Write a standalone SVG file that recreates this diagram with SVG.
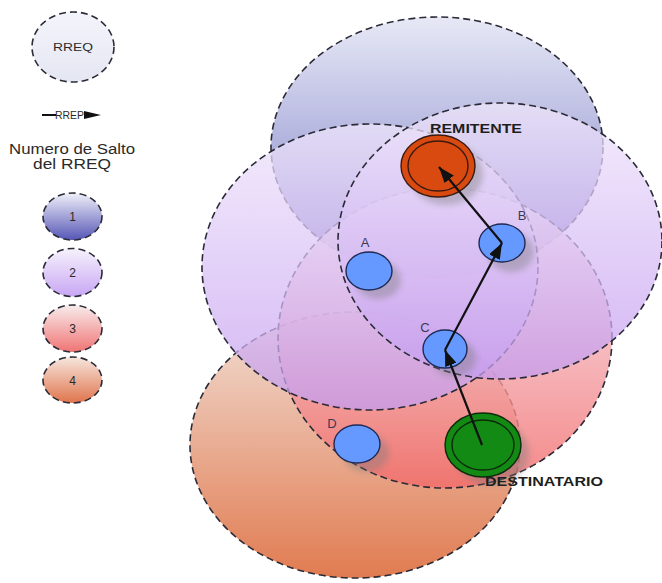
<svg xmlns="http://www.w3.org/2000/svg" width="662" height="583" viewBox="0 0 662 583">
  <defs>
    <style>
      .range { stroke: #2b2b38; stroke-width: 1.6; stroke-dasharray: 7 4; }
      .lbl { font-family: "Liberation Sans", Arial, sans-serif; fill: #2a2a2a; }
      .tag { font-family: "Liberation Sans", Arial, sans-serif; font-size: 13px; fill: #3a3a55; }
      .name { font-family: "Liberation Sans", Arial, sans-serif; font-size: 13px; font-weight: bold; fill: #1e1e1e; }
      .relay { fill: #6699ff; stroke: #1f2a55; stroke-width: 1.4; }
      .shadow { fill: #7a7a7a; opacity: 0.4; filter: url(#soft); }
      .route { stroke: #111; stroke-width: 2.2; fill: none; marker-end: url(#head); }
    </style>
    <filter id="soft" x="-30%" y="-30%" width="160%" height="160%">
      <feGaussianBlur stdDeviation="3"/>
    </filter>
    <marker id="head" viewBox="0 0 16 12" refX="16" refY="6" markerWidth="16" markerHeight="12" markerUnits="userSpaceOnUse" orient="auto">
      <path d="M0,0 L16,6 L0,12 Z" fill="#111"/>
    </marker>
    <!-- hop colour ramps: pale at the top, saturated at the bottom -->
    <linearGradient id="hop1" x1="0" y1="0" x2="0" y2="1">
      <stop offset="0" stop-color="#e4e6f5"/>
      <stop offset="1" stop-color="#6c6cbe"/>
    </linearGradient>
    <linearGradient id="hop2" x1="0" y1="0" x2="0" y2="1">
      <stop offset="0" stop-color="#efe6fb"/>
      <stop offset="1" stop-color="#c49cf0"/>
    </linearGradient>
    <linearGradient id="hop3" x1="0" y1="0" x2="0" y2="1">
      <stop offset="0" stop-color="#f6eefa"/>
      <stop offset="1" stop-color="#f26a6a"/>
    </linearGradient>
    <linearGradient id="hop4" x1="0" y1="0" x2="0" y2="1">
      <stop offset="0" stop-color="#f0dcd2"/>
      <stop offset="1" stop-color="#de7042"/>
    </linearGradient>
    <linearGradient id="key1" x1="0" y1="0" x2="0" y2="1">
      <stop offset="0" stop-color="#f0f0fa"/>
      <stop offset="1" stop-color="#5656b6"/>
    </linearGradient>
    <linearGradient id="key2" x1="0" y1="0" x2="0" y2="1">
      <stop offset="0" stop-color="#f6f2fc"/>
      <stop offset="1" stop-color="#c8a6f4"/>
    </linearGradient>
    <linearGradient id="key3" x1="0" y1="0" x2="0" y2="1">
      <stop offset="0" stop-color="#f8ecec"/>
      <stop offset="1" stop-color="#f07474"/>
    </linearGradient>
    <linearGradient id="key4" x1="0" y1="0" x2="0" y2="1">
      <stop offset="0" stop-color="#f6e6de"/>
      <stop offset="1" stop-color="#e0744c"/>
    </linearGradient>
    <linearGradient id="keyRreq" x1="0" y1="0" x2="0" y2="1">
      <stop offset="0" stop-color="#f4f5fb"/>
      <stop offset="1" stop-color="#e4e6f2"/>
    </linearGradient>
  </defs>

  <rect width="662" height="583" fill="#ffffff"/>

  <!-- legend -->
  <g id="legend">
    <g id="legend-rreq">
      <ellipse cx="73" cy="47" rx="41" ry="35" fill="url(#keyRreq)" class="range"/>
      <text class="lbl" x="73" y="51" font-size="10" text-anchor="middle" textLength="40" lengthAdjust="spacingAndGlyphs">RREQ</text>
    </g>
    <g id="legend-rrep">
      <line x1="42" y1="115" x2="56" y2="115" stroke="#111" stroke-width="2"/>
      <text class="lbl" x="55" y="119" font-size="11" textLength="29" lengthAdjust="spacingAndGlyphs">RREP</text>
      <path d="M84,111 L101,115 L84,119 Z" fill="#111"/>
    </g>
    <g id="legend-title">
      <text class="lbl" x="72" y="154" font-size="14" text-anchor="middle" textLength="126" lengthAdjust="spacingAndGlyphs">Numero de Salto</text>
      <text class="lbl" x="72" y="169" font-size="14" text-anchor="middle" textLength="78" lengthAdjust="spacingAndGlyphs">del RREQ</text>
    </g>
    <g id="legend-hop1">
      <ellipse cx="72.5" cy="216.5" rx="29.5" ry="23.5" fill="url(#key1)" class="range"/>
      <text class="lbl" x="72.5" y="221" font-size="12" text-anchor="middle">1</text>
    </g>
    <g id="legend-hop2">
      <ellipse cx="72.5" cy="272.5" rx="29.5" ry="24" fill="url(#key2)" class="range"/>
      <text class="lbl" x="72.5" y="277" font-size="12" text-anchor="middle">2</text>
    </g>
    <g id="legend-hop3">
      <ellipse cx="72.5" cy="328.5" rx="29.5" ry="23.5" fill="url(#key3)" class="range"/>
      <text class="lbl" x="72.5" y="333" font-size="12" text-anchor="middle">3</text>
    </g>
    <g id="legend-hop4">
      <ellipse cx="72.5" cy="380" rx="29.5" ry="23" fill="url(#key4)" class="range"/>
      <text class="lbl" x="72.5" y="385" font-size="12" text-anchor="middle">4</text>
    </g>
  </g>

  <!-- RREQ coverage areas, stacked bottom to top -->
  <g id="ranges">
    <ellipse id="range-d" cx="355" cy="445" rx="165" ry="133" fill="url(#hop4)" fill-opacity="0.92" class="range"/>
    <ellipse id="range-remitente" cx="437" cy="147" rx="166" ry="130" fill="url(#hop1)" fill-opacity="0.9" class="range"/>
    <ellipse id="range-c" cx="445" cy="338" rx="167" ry="150" fill="url(#hop3)" fill-opacity="0.8" class="range"/>
    <ellipse id="range-a" cx="370" cy="267" rx="168" ry="143" fill="url(#hop2)" fill-opacity="0.74" class="range"/>
    <ellipse id="range-b" cx="500" cy="241" rx="162" ry="138" fill="url(#hop2)" fill-opacity="0.74" class="range"/>
  </g>

  <!-- stations -->
  <g id="node-remitente">
    <ellipse cx="446" cy="174" rx="37" ry="31" class="shadow"/>
    <ellipse cx="438" cy="166" rx="37" ry="31" fill="#d94a10" stroke="#3a1a10" stroke-width="1.4"/>
    <ellipse cx="438" cy="166" rx="30" ry="25" fill="none" stroke="#3a1a10" stroke-width="1.4"/>
    <text class="name" x="476" y="133" text-anchor="middle" textLength="92" lengthAdjust="spacingAndGlyphs">REMITENTE</text>
  </g>
  <g id="node-b">
    <ellipse cx="511" cy="252" rx="23" ry="20" class="shadow"/>
    <ellipse cx="502" cy="243" rx="23" ry="19" class="relay"/>
    <text class="tag" x="522" y="220" text-anchor="middle">B</text>
  </g>
  <g id="node-a">
    <ellipse cx="378" cy="280" rx="23" ry="19" class="shadow"/>
    <ellipse cx="369" cy="271" rx="23" ry="19" class="relay"/>
    <text class="tag" x="365" y="247" text-anchor="middle">A</text>
  </g>
  <g id="node-c">
    <ellipse cx="454" cy="358" rx="22" ry="19" class="shadow"/>
    <ellipse cx="445" cy="349" rx="22" ry="19" class="relay"/>
    <text class="tag" x="425" y="332" text-anchor="middle">C</text>
  </g>
  <g id="node-d">
    <ellipse cx="366" cy="453" rx="23" ry="19" class="shadow"/>
    <ellipse cx="357" cy="444" rx="23" ry="19" class="relay"/>
    <text class="tag" x="332" y="428" text-anchor="middle">D</text>
  </g>
  <g id="node-destinatario">
    <ellipse cx="491" cy="453" rx="38" ry="32" class="shadow"/>
    <ellipse cx="483" cy="445" rx="38" ry="32" fill="#138a13" stroke="#0d2a0d" stroke-width="1.4"/>
    <ellipse cx="483" cy="445" rx="31" ry="25" fill="none" stroke="#0d2a0d" stroke-width="1.4"/>
    <text class="name" x="544" y="486" text-anchor="middle" textLength="118" lengthAdjust="spacingAndGlyphs">DESTINATARIO</text>
  </g>

  <!-- RREP path back to the sender -->
  <g id="connectors">
    <line class="route" x1="482" y1="445" x2="445" y2="350"/>
    <line class="route" x1="445" y1="350" x2="502" y2="243"/>
    <line class="route" x1="502" y1="243" x2="439" y2="167"/>
  </g>
</svg>
